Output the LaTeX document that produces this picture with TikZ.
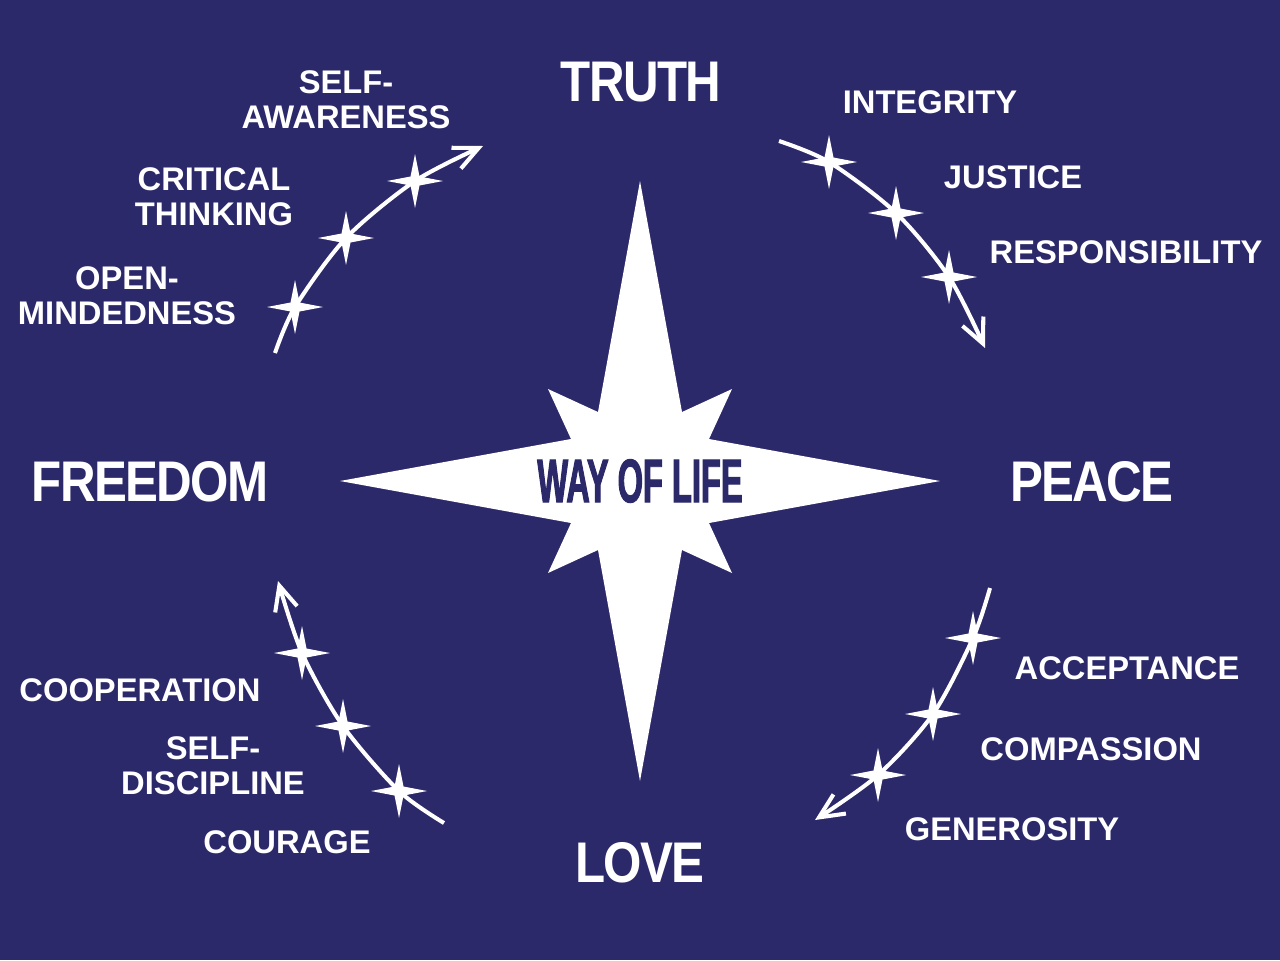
\documentclass[tikz,border=0pt]{standalone}
\usepackage{fontspec}
\usetikzlibrary{arrows.meta}
\setmainfont{Liberation Sans}
\newfontfamily\bigfont[FakeStretch=0.86,LetterSpace=-3]{Liberation Sans}
\newfontfamily\wolfont[FakeStretch=0.53,FakeBold=1.5]{Liberation Sans}
\definecolor{navy}{RGB}{44,41,106}
\begin{document}
\begin{tikzpicture}[x=0.01cm,y=-0.01cm,
  biglabel/.style={text=white,inner sep=0pt,font={\bigfont\bfseries\fontsize{16.3}{18}\selectfont}},
  smalllabel/.style={text=white,inner sep=0pt,align=center,font={\bfseries\fontsize{9.3}{10}\selectfont}},
  arcline/.style={draw=white,line width=1.15pt,-{Straight Barb[length=7pt,width=6.5pt]}},
  sparkle/.pic={\fill[white] (28,0) -- (4.5,4.5) -- (0,27) -- (-4.5,4.5) -- (-28,0) -- (-4.5,-4.5) -- (0,-27) -- (4.5,-4.5) -- cycle;}
]
\fill[navy] (0,0) rectangle (1280,960);
\useasboundingbox (0,0) rectangle (1280,960);

% central star
\fill[white,shift={(640,481)}] (0,-300) -- (42,-69) -- (92,-92) -- (69,-42) -- (300,0) -- (69,42) -- (92,92) -- (42,69) -- (0,300) -- (-42,69) -- (-92,92) -- (-69,42) -- (-300,0) -- (-69,-42) -- (-92,-92) -- (-42,-69) -- cycle;
\node[text=navy,inner sep=0pt,font={\wolfont\bfseries\fontsize{17.5}{18}\selectfont}] (wol) at (640,481) {WAY OF LIFE};

% main labels
\node[biglabel] (truth) at (641,82) {TRUTH};
\node[biglabel] (peace) at (1092,482) {PEACE};
\node[biglabel] (freedom) at (150,482) {FREEDOM};
\node[biglabel] (love) at (640,863) {LOVE};

% small labels
\node[smalllabel] (selfaw) at (346,100) {SELF-\\AWARENESS};
\node[smalllabel] (critical) at (214,197) {CRITICAL\\THINKING};
\node[smalllabel] (openm) at (127,296) {OPEN-\\MINDEDNESS};
\node[smalllabel] (integrity) at (930,102) {INTEGRITY};
\node[smalllabel] (justice) at (1013,177) {JUSTICE};
\node[smalllabel] (resp) at (1126,252) {RESPONSIBILITY};
\node[smalllabel] (accept) at (1127,668) {ACCEPTANCE};
\node[smalllabel] (compass) at (1091,749) {COMPASSION};
\node[smalllabel] (gener) at (1012,829) {GENEROSITY};
\node[smalllabel] (coop) at (140,690) {COOPERATION};
\node[smalllabel] (selfdis) at (213,766) {SELF-\\DISCIPLINE};
\node[smalllabel] (courage) at (287,842) {COURAGE};

% arc coordinates
\coordinate (tla) at (275,353); \coordinate (tl1) at (295,307); \coordinate (tl2) at (346,238); \coordinate (tl3) at (415,181); \coordinate (tlb) at (483,146);
\coordinate (tra) at (779,141); \coordinate (tr1) at (829,162); \coordinate (tr2) at (896,213); \coordinate (tr3) at (949,277); \coordinate (trb) at (985,348);
\coordinate (bra) at (990,588); \coordinate (br1) at (973,638); \coordinate (br2) at (933,714); \coordinate (br3) at (878,775); \coordinate (brb) at (815,820);
\coordinate (bla) at (444,823); \coordinate (bl3) at (399,791); \coordinate (bl2) at (343,726); \coordinate (bl1) at (302,653); \coordinate (blb) at (278,581);

\draw[arcline] plot[smooth] coordinates {(tla) (tl1) (tl2) (tl3) (tlb)};
\draw[arcline] plot[smooth] coordinates {(tra) (tr1) (tr2) (tr3) (trb)};
\draw[arcline] plot[smooth] coordinates {(bra) (br1) (br2) (br3) (brb)};
\draw[arcline] plot[smooth] coordinates {(bla) (bl3) (bl2) (bl1) (blb)};

\foreach \s in {tl1,tl2,tl3,tr1,tr2,tr3,br1,br2,br3,bl1,bl2,bl3}
  \pic at (\s) {sparkle};
\end{tikzpicture}
\end{document}
